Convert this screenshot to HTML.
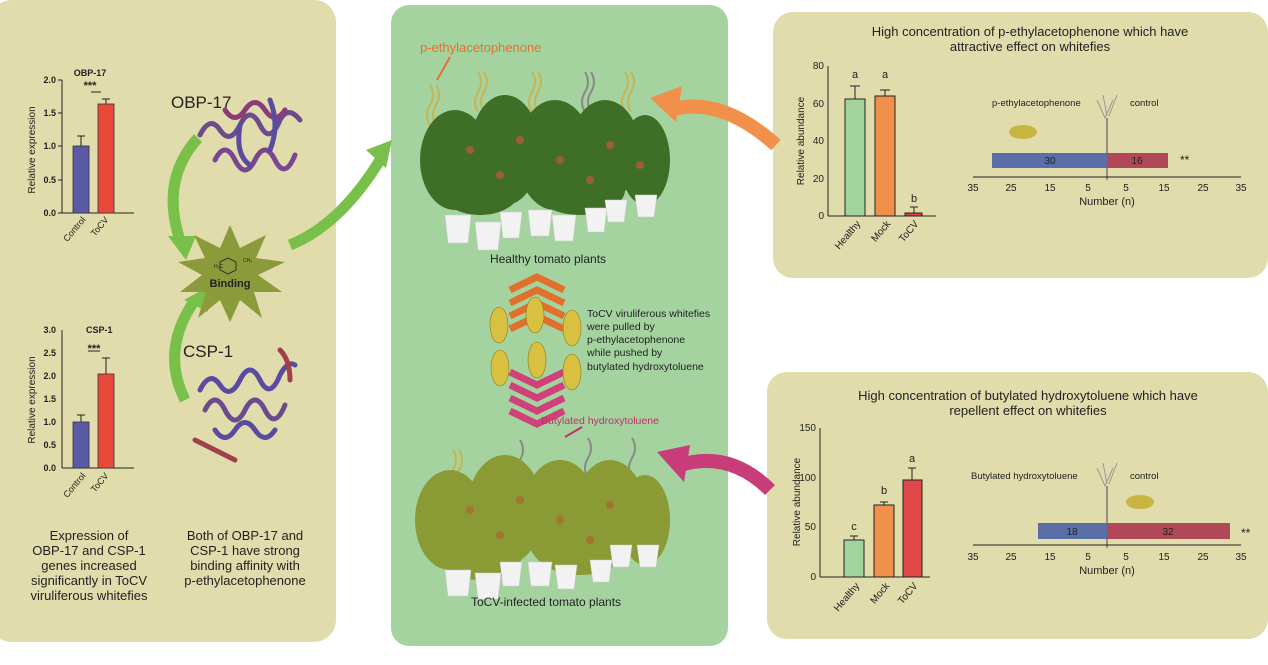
<!DOCTYPE html>
<html><head><meta charset="utf-8"><style>
html,body{margin:0;padding:0;background:#fff;width:1268px;height:665px;overflow:hidden}
svg{display:block;font-family:"Liberation Sans",Arial,sans-serif}
</style></head><body>
<svg width="1268" height="665" viewBox="0 0 1268 665" xmlns="http://www.w3.org/2000/svg">
<defs>
<marker id="ah" markerWidth="8" markerHeight="8" refX="4" refY="4" orient="auto"><path d="M0,0 L8,4 L0,8 z" fill="context-stroke"/></marker>
</defs>
<!-- panels -->
<rect x="-10" y="0" width="346" height="642" rx="22" fill="#e0dcab"/>
<rect x="391" y="5" width="337" height="641" rx="18" fill="#a4d3a0"/>
<rect x="773" y="12" width="495" height="266" rx="20" fill="#e0dcab"/>
<rect x="767" y="372" width="501" height="267" rx="20" fill="#e0dcab"/>

<!-- LEFT: OBP-17 chart -->
<g font-size="9" fill="#222">
<line x1="62" y1="80" x2="62" y2="213" stroke="#222"/>
<line x1="62" y1="213" x2="134" y2="213" stroke="#222"/>
<g stroke="#222"><line x1="58" y1="80" x2="62" y2="80"/><line x1="58" y1="113" x2="62" y2="113"/><line x1="58" y1="146" x2="62" y2="146"/><line x1="58" y1="180" x2="62" y2="180"/><line x1="58" y1="213" x2="62" y2="213"/></g>
<g text-anchor="end" font-weight="bold"><text x="56" y="83">2.0</text><text x="56" y="116">1.5</text><text x="56" y="149">1.0</text><text x="56" y="183">0.5</text><text x="56" y="216">0.0</text></g>
<rect x="73" y="146" width="16" height="67" fill="#5b5aa6" stroke="#333" stroke-width=".8"/>
<rect x="98" y="104" width="16" height="109" fill="#e8493a" stroke="#333" stroke-width=".8"/>
<path d="M81,146 V136 M77,136 H85 M106,104 V99 M102,99 H110" stroke="#222"/>
<line x1="91" y1="92" x2="101" y2="92" stroke="#222"/>
<text x="90" y="76" text-anchor="middle" font-weight="bold">OBP-17</text>
<text x="90" y="89" text-anchor="middle" font-weight="bold" font-size="11">***</text>
<text transform="translate(35,150) rotate(-90)" text-anchor="middle" font-size="10">Relative expression</text>
<text transform="translate(86,220) rotate(-50)" text-anchor="end">Control</text>
<text transform="translate(109,220) rotate(-50)" text-anchor="end">ToCV</text>
</g>
<!-- CSP-1 chart -->
<g font-size="9" fill="#222">
<line x1="62" y1="330" x2="62" y2="468" stroke="#222"/>
<line x1="62" y1="468" x2="134" y2="468" stroke="#222"/>
<g text-anchor="end" font-weight="bold"><text x="56" y="333">3.0</text><text x="56" y="356">2.5</text><text x="56" y="379">2.0</text><text x="56" y="402">1.5</text><text x="56" y="425">1.0</text><text x="56" y="448">0.5</text><text x="56" y="471">0.0</text></g>
<rect x="73" y="422" width="16" height="46" fill="#5b5aa6" stroke="#333" stroke-width=".8"/>
<rect x="98" y="374" width="16" height="94" fill="#e8493a" stroke="#333" stroke-width=".8"/>
<path d="M81,422 V415 M77,415 H85 M106,374 V358 M102,358 H110" stroke="#222"/>
<line x1="88" y1="351" x2="100" y2="351" stroke="#222"/>
<text x="86" y="333" font-weight="bold">CSP-1</text>
<text x="94" y="352" text-anchor="middle" font-weight="bold" font-size="11">***</text>
<text transform="translate(35,400) rotate(-90)" text-anchor="middle" font-size="10">Relative expression</text>
<text transform="translate(86,476) rotate(-50)" text-anchor="end">Control</text>
<text transform="translate(109,476) rotate(-50)" text-anchor="end">ToCV</text>
</g>
<!-- proteins -->
<text x="171" y="108" font-size="17" fill="#222">OBP-17</text>
<g fill="none" stroke-width="5" stroke-linecap="round">
<path d="M200,135 q10,-20 20,-5 q10,15 20,-5 q10,-20 20,0 q10,20 20,-5 q8,-15 20,0" stroke="#6b4a8e"/>
<path d="M215,160 q10,-20 20,0 q10,20 20,0 q10,-20 20,0 q10,20 20,-5" stroke="#7a4690"/>
<path d="M225,110 q10,15 20,0 q10,-15 20,0 q10,15 20,0" stroke="#8a3c7a"/>
<path d="M240,125 q-5,30 10,40 M270,100 q10,25 0,50" stroke="#5a4aa0"/>
</g>
<text x="183" y="357" font-size="17" fill="#222">CSP-1</text>
<g fill="none" stroke-width="5" stroke-linecap="round">
<path d="M200,390 q10,-20 20,-5 q10,15 20,-5 q10,-20 20,0 q10,20 20,-5 q8,-15 15,-10" stroke="#5a4aa0"/>
<path d="M205,410 q10,-20 20,0 q10,20 20,0 q10,-20 20,0 q10,20 20,-5" stroke="#6b4a8e"/>
<path d="M215,430 q10,15 20,0 q10,-15 20,0 q10,15 20,0" stroke="#5a4aa0"/>
<path d="M195,440 q20,10 40,20 M280,350 q10,10 10,30" stroke="#a0404a"/>
</g>
<!-- green arrows left -->
<g fill="none" stroke="#78c04a" stroke-width="11">
<path d="M198,138 Q160,180 180,240"/>
<path d="M185,400 Q160,350 195,300"/>
<path d="M290,245 Q340,225 380,160"/>
</g>
<polygon points="168,236 196,236 186,260" fill="#78c04a"/>
<polygon points="184,300 206,288 208,312" fill="#78c04a"/>
<polygon points="366,150 392,140 386,168" fill="#78c04a"/>
<!-- binding star -->
<polygon points="230,225 240,248 266,235 256,258 285,262 258,275 282,292 254,292 262,318 240,300 230,322 220,300 198,318 206,292 180,292 202,275 178,262 205,258 194,235 220,248" fill="#8b9a3a"/>
<text x="230" y="287" text-anchor="middle" font-size="11" font-weight="bold" fill="#222">Binding</text>
<polygon points="228,258 236,262 236,270 228,274 220,270 220,262" fill="none" stroke="#222" stroke-width=".8"/>
<text x="214" y="268" font-size="5" fill="#222">H₃C</text>
<text x="243" y="262" font-size="5" fill="#222">CH₃</text>
<g font-size="13" fill="#222" text-anchor="middle">
<text x="89" y="540">Expression of</text><text x="89" y="555">OBP-17 and CSP-1</text><text x="89" y="570">genes increased</text><text x="89" y="585">significantly in ToCV</text><text x="89" y="600">viruliferous whitefies</text>
<text x="245" y="540">Both of OBP-17 and</text><text x="245" y="555">CSP-1 have strong</text><text x="245" y="570">binding affinity with</text><text x="245" y="585">p-ethylacetophenone</text>
</g>

<!-- CENTER -->
<text x="420" y="52" font-size="13" fill="#e8702a">p-ethylacetophenone</text>
<line x1="450" y1="57" x2="437" y2="80" stroke="#e8702a" stroke-width="2"/>
<g fill="none" stroke="#c8b450" stroke-width="2">
<path d="M430,85 q6,10 0,20 q-6,10 0,20 M436,85 q6,10 0,20 q-6,10 0,20"/>
<path d="M478,72 q6,10 0,20 q-6,10 0,20 M484,72 q6,10 0,20 q-6,10 0,20"/>
<path d="M532,72 q6,10 0,20 q-6,10 0,20 M538,72 q6,10 0,20 q-6,10 0,20"/>
<path d="M625,72 q6,10 0,20 q-6,10 0,20 M631,72 q6,10 0,20 q-6,10 0,20"/>
</g>
<path d="M585,72 q6,10 0,20 q-6,10 0,20 M591,72 q6,10 0,20 q-6,10 0,20" fill="none" stroke="#888" stroke-width="2"/>
<!-- healthy plants -->
<g fill="#3f6e26">
<ellipse cx="455" cy="160" rx="35" ry="50"/><ellipse cx="505" cy="150" rx="35" ry="55"/><ellipse cx="555" cy="155" rx="38" ry="55"/><ellipse cx="605" cy="150" rx="35" ry="50"/><ellipse cx="645" cy="160" rx="25" ry="45"/>
<ellipse cx="480" cy="190" rx="40" ry="25"/><ellipse cx="580" cy="190" rx="45" ry="25"/>
</g>
<g fill="#c35a3a" opacity=".7"><circle cx="470" cy="150" r="4"/><circle cx="520" cy="140" r="4"/><circle cx="560" cy="160" r="4"/><circle cx="610" cy="145" r="4"/><circle cx="500" cy="175" r="4"/><circle cx="590" cy="180" r="4"/><circle cx="640" cy="165" r="4"/></g>
<g fill="#f2f2f2" stroke="#ccc" stroke-width=".5">
<path d="M445,215 h26 l-3,28 h-20z"/><path d="M475,222 h26 l-3,28 h-20z"/><path d="M500,212 h22 l-3,26 h-16z"/><path d="M528,210 h24 l-3,26 h-18z"/><path d="M552,215 h24 l-3,26 h-18z"/><path d="M585,208 h22 l-3,24 h-16z"/><path d="M605,200 h22 l-3,22 h-16z"/><path d="M635,195 h22 l-3,22 h-16z"/>
</g>
<text x="548" y="263" font-size="12" fill="#222" text-anchor="middle">Healthy tomato plants</text>
<!-- chevrons -->
<g fill="none" stroke="#e0702a" stroke-width="7">
<path d="M510,290 L537,277 L564,290"/><path d="M510,303 L537,290 L564,303"/><path d="M510,316 L537,303 L564,316"/><path d="M510,329 L537,316 L564,329"/>
</g>
<g fill="none" stroke="#d0407a" stroke-width="7">
<path d="M510,372 L537,385 L564,372"/><path d="M510,385 L537,398 L564,385"/><path d="M510,398 L537,411 L564,398"/><path d="M510,411 L537,424 L564,411"/>
</g>
<g fill="#d8c040" stroke="#8a7a20" stroke-width=".6">
<ellipse cx="499" cy="325" rx="9" ry="18"/><ellipse cx="535" cy="315" rx="9" ry="18"/><ellipse cx="572" cy="328" rx="9" ry="18"/>
<ellipse cx="500" cy="368" rx="9" ry="18"/><ellipse cx="537" cy="360" rx="9" ry="18"/><ellipse cx="572" cy="372" rx="9" ry="18"/>
</g>
<g font-size="10.5" fill="#222">
<text x="587" y="317">ToCV viruliferous whitefies</text><text x="587" y="330">were pulled by</text><text x="587" y="343">p-ethylacetophenone</text><text x="587" y="356">while pushed by</text><text x="587" y="370">butylated hydroxytoluene</text>
</g>
<text x="541" y="424" font-size="10.5" fill="#c0306a">Butylated hydroxytoluene</text>
<line x1="565" y1="437" x2="582" y2="427" stroke="#c0306a" stroke-width="2"/>
<g fill="none" stroke="#c8b450" stroke-width="2">
<path d="M453,450 q6,10 0,20 q-6,10 0,20 M459,450 q6,10 0,20 q-6,10 0,20"/>
</g>
<path d="M520,440 q6,10 0,20 q-6,10 0,20 M588,438 q6,10 0,20 q-6,10 0,20 M632,438 q6,10 0,20 q-6,10 0,20" fill="none" stroke="#888" stroke-width="2"/>
<!-- infected plants -->
<g fill="#8a9a34">
<ellipse cx="450" cy="520" rx="35" ry="50"/><ellipse cx="505" cy="510" rx="38" ry="55"/><ellipse cx="560" cy="515" rx="38" ry="55"/><ellipse cx="610" cy="510" rx="35" ry="50"/><ellipse cx="645" cy="520" rx="25" ry="45"/>
<ellipse cx="480" cy="555" rx="42" ry="25"/><ellipse cx="580" cy="550" rx="45" ry="25"/>
</g>
<g fill="#b45a30" opacity=".6"><circle cx="470" cy="510" r="4"/><circle cx="520" cy="500" r="4"/><circle cx="560" cy="520" r="4"/><circle cx="610" cy="505" r="4"/><circle cx="500" cy="535" r="4"/><circle cx="590" cy="540" r="4"/></g>
<g fill="#f2f2f2" stroke="#ccc" stroke-width=".5">
<path d="M445,570 h26 l-3,26 h-20z"/><path d="M475,573 h26 l-3,26 h-20z"/><path d="M500,562 h22 l-3,24 h-16z"/><path d="M528,562 h24 l-3,24 h-18z"/><path d="M555,565 h22 l-3,24 h-16z"/><path d="M590,560 h22 l-3,22 h-16z"/><path d="M610,545 h22 l-3,22 h-16z"/><path d="M637,545 h22 l-3,22 h-16z"/>
</g>
<text x="546" y="606" font-size="12" fill="#222" text-anchor="middle">ToCV-infected tomato plants</text>

<!-- big connecting arrows -->
<path d="M776,145 Q720,95 670,110" fill="none" stroke="#f0904a" stroke-width="14"/>
<polygon points="650,98 682,86 676,122" fill="#f0904a"/>
<path d="M770,490 Q730,450 680,465" fill="none" stroke="#c83c7a" stroke-width="14"/>
<polygon points="657,452 690,445 684,482" fill="#c83c7a"/>

<!-- TOP RIGHT -->
<g fill="#222">
<text x="1030" y="36" font-size="13" text-anchor="middle">High concentration of p-ethylacetophenone which have</text>
<text x="1030" y="51" font-size="13" text-anchor="middle">attractive effect on whitefies</text>
<g font-size="10">
<line x1="828" y1="66" x2="828" y2="216" stroke="#222"/><line x1="828" y1="216" x2="936" y2="216" stroke="#222"/>
<g text-anchor="end"><text x="824" y="69">80</text><text x="824" y="107">60</text><text x="824" y="144">40</text><text x="824" y="182">20</text><text x="824" y="219">0</text></g>
<rect x="845" y="99" width="20" height="117" fill="#a3d4a0" stroke="#222"/>
<rect x="875" y="96" width="20" height="120" fill="#f0904a" stroke="#222"/>
<rect x="905" y="213" width="17" height="3" fill="#e04040" stroke="#222"/>
<path d="M855,99 V86 M850,86 H860 M885,96 V90 M880,90 H890 M914,213 V207 M910,207 H918" stroke="#222"/>
<g text-anchor="middle" font-size="11"><text x="855" y="78">a</text><text x="885" y="78">a</text><text x="914" y="202">b</text></g>
<text transform="translate(804,141) rotate(-90)" text-anchor="middle">Relative abundance</text>
<text transform="translate(861,224) rotate(-50)" text-anchor="end">Healthy</text>
<text transform="translate(891,224) rotate(-50)" text-anchor="end">Mock</text>
<text transform="translate(919,224) rotate(-50)" text-anchor="end">ToCV</text>
<text x="992" y="106" font-size="9.5">p-ethylacetophenone</text><text x="1130" y="106" font-size="9.5">control</text>
<path d="M1097,100 L1105,118 L1113,100 M1103,95 L1107,116 M1117,95 L1109,116" fill="none" stroke="#999"/>
<line x1="1107" y1="118" x2="1107" y2="180" stroke="#777" stroke-width="1.5"/>
<ellipse cx="1023" cy="132" rx="14" ry="7" fill="#c8b440"/>
<rect x="992" y="153" width="115" height="15" fill="#5a6ea8"/><rect x="1107" y="153" width="61" height="15" fill="#b04858"/>
<text x="1050" y="164" text-anchor="middle">30</text><text x="1137" y="164" text-anchor="middle">16</text>
<text x="1180" y="164" font-size="12">**</text>
<line x1="973" y1="177" x2="1241" y2="177" stroke="#222"/>
<g text-anchor="middle"><text x="973" y="191">35</text><text x="1011" y="191">25</text><text x="1050" y="191">15</text><text x="1088" y="191">5</text><text x="1126" y="191">5</text><text x="1164" y="191">15</text><text x="1203" y="191">25</text><text x="1241" y="191">35</text></g>
<text x="1107" y="205" text-anchor="middle" font-size="11">Number (n)</text>
</g>
</g>

<!-- BOTTOM RIGHT -->
<g fill="#222">
<text x="1028" y="400" font-size="13" text-anchor="middle">High concentration of butylated hydroxytoluene which have</text>
<text x="1028" y="415" font-size="13" text-anchor="middle">repellent effect on whitefies</text>
<g font-size="10">
<line x1="820" y1="428" x2="820" y2="577" stroke="#222"/><line x1="820" y1="577" x2="930" y2="577" stroke="#222"/>
<g text-anchor="end"><text x="816" y="431">150</text><text x="816" y="481">100</text><text x="816" y="530">50</text><text x="816" y="580">0</text></g>
<rect x="844" y="540" width="20" height="37" fill="#a3d4a0" stroke="#222"/>
<rect x="874" y="505" width="20" height="72" fill="#f0904a" stroke="#222"/>
<rect x="903" y="480" width="19" height="97" fill="#e04848" stroke="#222"/>
<path d="M854,540 V536 M850,536 H858 M884,505 V502 M880,502 H888 M912,480 V468 M908,468 H916" stroke="#222"/>
<g text-anchor="middle" font-size="11"><text x="854" y="530">c</text><text x="884" y="494">b</text><text x="912" y="462">a</text></g>
<text transform="translate(800,502) rotate(-90)" text-anchor="middle">Relative abundance</text>
<text transform="translate(860,586) rotate(-50)" text-anchor="end">Healthy</text>
<text transform="translate(890,586) rotate(-50)" text-anchor="end">Mock</text>
<text transform="translate(918,586) rotate(-50)" text-anchor="end">ToCV</text>
<text x="971" y="479" font-size="9.5">Butylated hydroxytoluene</text><text x="1130" y="479" font-size="9.5">control</text>
<path d="M1097,468 L1105,486 L1113,468 M1103,463 L1107,484 M1117,463 L1109,484" fill="none" stroke="#999"/>
<line x1="1107" y1="486" x2="1107" y2="548" stroke="#777" stroke-width="1.5"/>
<ellipse cx="1140" cy="502" rx="14" ry="7" fill="#c8b440"/>
<rect x="1038" y="523" width="69" height="16" fill="#5a6ea8"/><rect x="1107" y="523" width="123" height="16" fill="#b04858"/>
<text x="1072" y="535" text-anchor="middle">18</text><text x="1168" y="535" text-anchor="middle">32</text>
<text x="1241" y="537" font-size="12">**</text>
<line x1="973" y1="545" x2="1241" y2="545" stroke="#222"/>
<g text-anchor="middle"><text x="973" y="560">35</text><text x="1011" y="560">25</text><text x="1050" y="560">15</text><text x="1088" y="560">5</text><text x="1126" y="560">5</text><text x="1164" y="560">15</text><text x="1203" y="560">25</text><text x="1241" y="560">35</text></g>
<text x="1107" y="574" text-anchor="middle" font-size="11">Number (n)</text>
</g>
</g>
</svg>
</body></html>
